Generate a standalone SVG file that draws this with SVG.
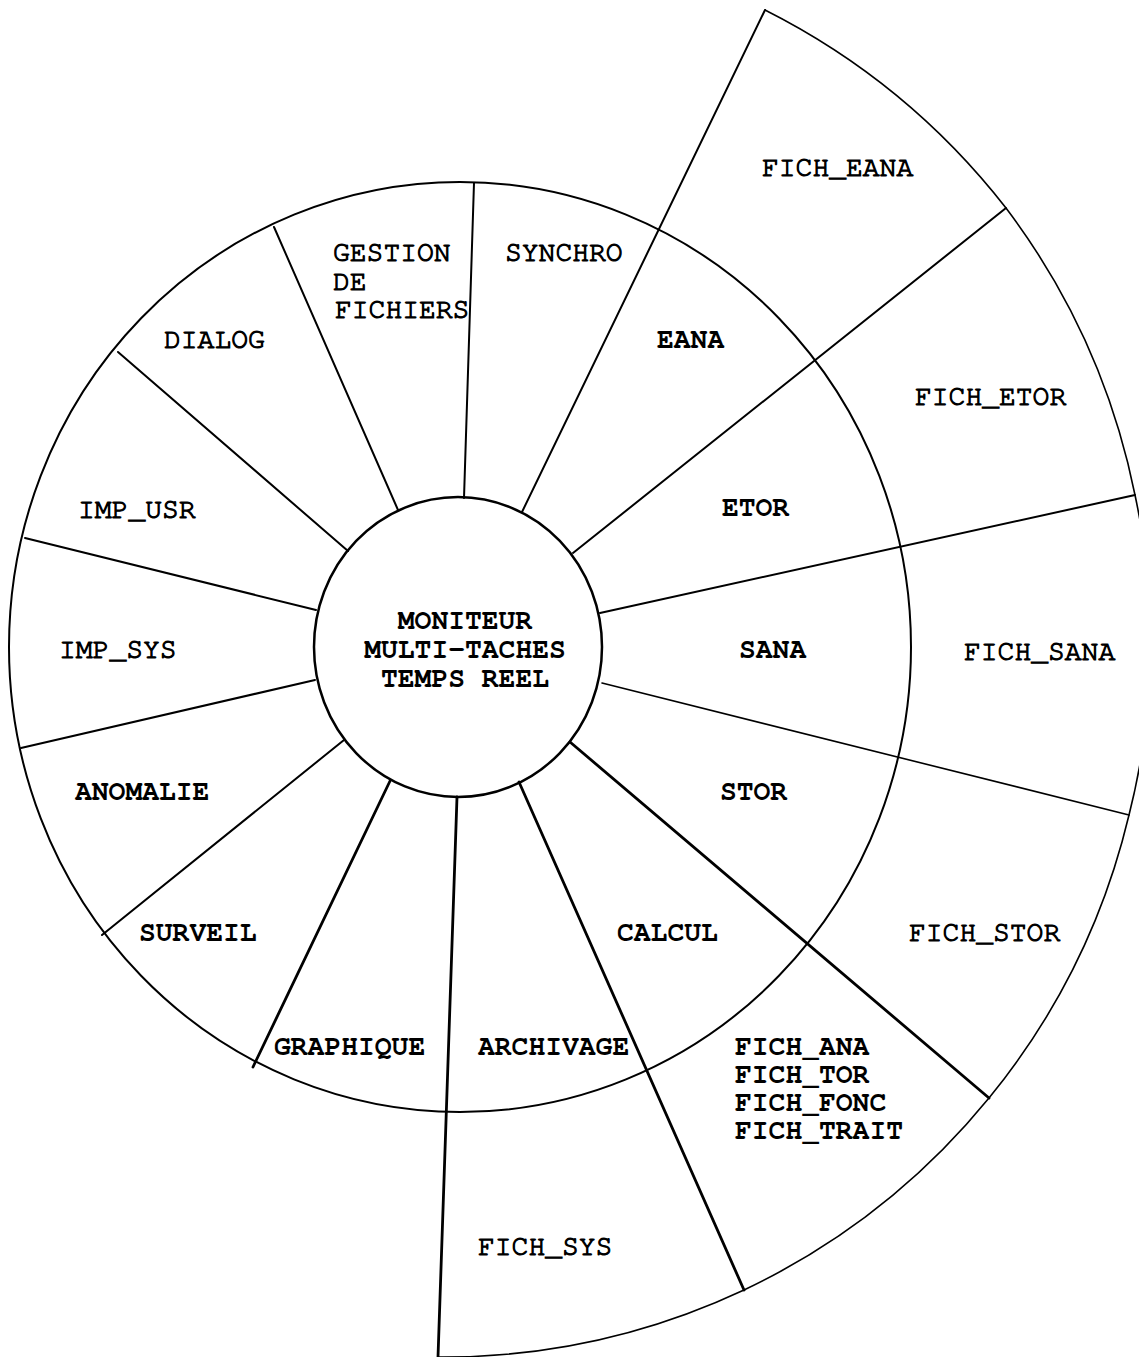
<svg xmlns="http://www.w3.org/2000/svg" width="1139" height="1357" viewBox="0 0 1139 1357">
<style>
  .ln{fill:none;stroke:#000;stroke-width:2;stroke-linecap:round}
  .thk{stroke-width:2.8}
  .thn{stroke-width:1.6}
  text{font-family:"Nimbus Mono PS","FreeMono","Courier New","Courier","Liberation Mono",monospace;font-size:28px;fill:#000}
  .r{stroke:#000;stroke-width:1.1}
  .b{font-weight:bold}
  .c{text-anchor:middle}
</style>
<rect width="1139" height="1357" fill="#fff"/>
<g id="connectors">
  <ellipse class="ln" cx="460" cy="647" rx="451" ry="465"/>
  <path class="ln thn" d="M765 10 A712 712 0 0 1 1006 208 A709 709 0 0 1 1135 495 A705 705 0 0 1 1129 815 A705 705 0 0 1 989 1098 A708 708 0 0 1 744 1290 A709 709 0 0 1 438 1357"/>
  <line class="ln" x1="464" y1="498" x2="474" y2="183"/>
  <line class="ln" x1="398" y1="510" x2="274" y2="227"/>
  <line class="ln" x1="348" y1="551" x2="118" y2="352"/>
  <line class="ln" x1="316" y1="610" x2="25" y2="538"/>
  <line class="ln" x1="315" y1="680" x2="21" y2="748"/>
  <line class="ln" x1="344" y1="740" x2="102" y2="935"/>
  <line class="ln thk" x1="390" y1="781" x2="253" y2="1067"/>
  <line class="ln thk" x1="457" y1="797" x2="438" y2="1357"/>
  <line class="ln thk" x1="519" y1="782" x2="744" y2="1290"/>
  <line class="ln thk" x1="570" y1="742" x2="989" y2="1098"/>
  <line class="ln thn" x1="602" y1="683" x2="1129" y2="815"/>
  <line class="ln" x1="600" y1="613" x2="1135" y2="495"/>
  <line class="ln" x1="573" y1="553" x2="1006" y2="208"/>
  <line class="ln" x1="522" y1="512" x2="765" y2="10"/>
</g>
<g id="moniteur">
  <ellipse class="ln" style="stroke-width:2.5" cx="458" cy="647" rx="144" ry="150"/>
  <text class="b c" x="465" y="629">MONITEUR</text>
  <text class="b c" x="465" y="658">MULTI-TACHES</text>
  <text class="b c" x="465" y="687">TEMPS REEL</text>
</g>
<g id="synchro"><text class="r" x="505" y="261">SYNCHRO</text></g>
<g id="gestion"><text class="r" x="333" y="261">GESTION</text><text class="r" x="333" y="290">DE</text><text class="r" x="335" y="318">FICHIERS</text></g>
<g id="dialog"><text class="r" x="164" y="348">DIALOG</text></g>
<g id="imp_usr"><text class="r" x="78" y="518">IMP_USR</text></g>
<g id="imp_sys"><text class="r" x="59" y="658">IMP_SYS</text></g>
<g id="anomalie"><text class="b" x="75" y="800">ANOMALIE</text></g>
<g id="surveil"><text class="b" x="139" y="941">SURVEIL</text></g>
<g id="graphique"><text class="b" x="274" y="1055">GRAPHIQUE</text></g>
<g id="archivage"><text class="b" x="478" y="1055">ARCHIVAGE</text></g>
<g id="calcul"><text class="b" x="617" y="941">CALCUL</text></g>
<g id="stor"><text class="b" x="720" y="800">STOR</text></g>
<g id="sana"><text class="b" x="739" y="658">SANA</text></g>
<g id="etor"><text class="b" x="722" y="516">ETOR</text></g>
<g id="eana"><text class="b" x="657" y="348">EANA</text></g>
<g id="fich_eana"><text class="r" x="762" y="176">FICH_EANA</text></g>
<g id="fich_etor"><text class="r" x="915" y="405">FICH_ETOR</text></g>
<g id="fich_sana"><text class="r" x="964" y="660">FICH_SANA</text></g>
<g id="fich_stor"><text class="r" x="909" y="941">FICH_STOR</text></g>
<g id="fich_calcul"><text class="b" x="735" y="1055">FICH_ANA</text><text class="b" x="735" y="1083">FICH_TOR</text><text class="b" x="735" y="1111">FICH_FONC</text><text class="b" x="735" y="1139">FICH_TRAIT</text></g>
<g id="fich_sys"><text class="r" x="478" y="1255">FICH_SYS</text></g>
</svg>
